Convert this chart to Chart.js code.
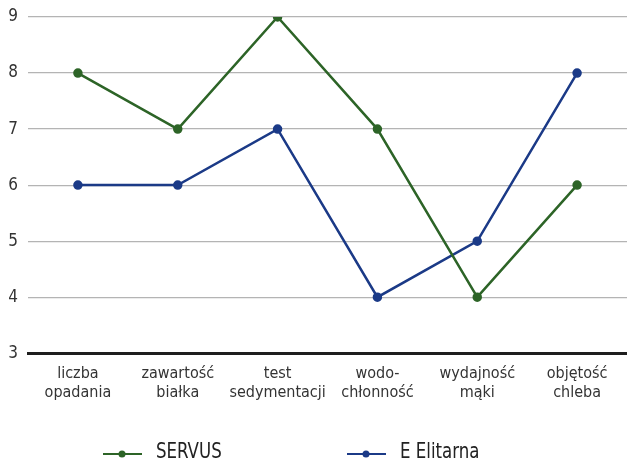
<!DOCTYPE html>
<html lang="pl">
<head>
    <meta charset="UTF-8">
    <title>SERVUS vs E Elitarna</title>
    <script src="https://cdn.jsdelivr.net/npm/chart.js"></script>
    <style>
        body {
            margin: 0;
            background: #fff;
            overflow: hidden;
        }
    </style>
</head>
<body>
    <canvas id="flour-chart" width="627" height="463"></canvas>

    <script>
        // data
        const categories = [
            ['liczba', 'opadania'],
            ['zawartość', 'białka'],
            ['test', 'sedymentacji'],
            ['wodo-', 'chłonność'],
            ['wydajność', 'mąki'],
            ['objętość', 'chleba']
        ];
        const servus = [8, 7, 9, 7, 4, 6];
        const elitarna = [6, 6, 7, 4, 5, 8];
        const yTicks = [3, 4, 5, 6, 7, 8, 9];

        const GREEN = '#2d6427';
        const BLUE = '#1b3a87';
        const FONT = "'Liberation Sans Narrow', 'DejaVu Sans Condensed', sans-serif";

        // legend drawn by hand: line + dot swatch, wide gap between the two entries
        const bottomLegend = {
            id: 'bottomLegend',
            afterDraw(chart) {
                const g = chart.ctx;
                const y = chart.height - 9;
                const slots = [103, 347];
                g.save();
                g.font = '21px ' + FONT;
                g.textBaseline = 'middle';
                chart.data.datasets.forEach((ds, i) => {
                    const x = slots[i];
                    g.strokeStyle = ds.borderColor;
                    g.lineWidth = 2;
                    g.beginPath();
                    g.moveTo(x, y);
                    g.lineTo(x + 39, y);
                    g.stroke();
                    g.fillStyle = ds.borderColor;
                    g.beginPath();
                    g.arc(x + 19, y, 3.5, 0, Math.PI * 2);
                    g.fill();
                    // the original type is narrower, squeeze it a bit
                    g.save();
                    g.translate(x + 53, y - 1);
                    g.scale(0.88, 1);
                    g.fillStyle = '#222';
                    g.fillText(ds.label, 0, 0);
                    g.restore();
                });
                g.restore();
            }
        };

        const ctx = document.getElementById('flour-chart').getContext('2d');
        new Chart(ctx, {
            type: 'line',
            data: {
                labels: categories,
                datasets: [{
                    label: 'SERVUS',
                    data: servus,
                    borderColor: GREEN,
                    backgroundColor: GREEN,
                    borderWidth: 2.5,
                    pointRadius: 3.5,
                    pointHoverRadius: 4,
                    tension: 0
                }, {
                    label: 'E Elitarna',
                    data: elitarna,
                    borderColor: BLUE,
                    backgroundColor: BLUE,
                    borderWidth: 2.5,
                    pointRadius: 3.5,
                    pointHoverRadius: 4,
                    tension: 0
                }]
            },
            options: {
                responsive: false,
                animation: false,
                layout: {
                    autoPadding: false,
                    padding: { top: 0, right: 0, bottom: 54, left: 0 }
                },
                plugins: {
                    tooltip: { enabled: false },
                    legend: { display: false }
                },
                scales: {
                    x: {
                        offset: true,
                        afterFit(scale) {
                            scale.paddingLeft = 0;
                            scale.paddingRight = 0;
                            scale.height += 4;
                        },
                        grid: { display: false },
                        border: { display: true, color: '#1e1e1e', width: 3 },
                        ticks: {
                            color: '#333',
                            padding: 3,
                            maxRotation: 0,
                            autoSkip: false,
                            font: { family: FONT, size: 16, lineHeight: 1.18 }
                        }
                    },
                    y: {
                        min: yTicks[0],
                        max: yTicks[yTicks.length - 1],
                        afterBuildTicks(scale) {
                            scale.ticks = yTicks.map(v => ({ value: v }));
                        },
                        afterFit(scale) {
                            scale.width = 28;
                            scale.paddingTop = 17;
                        },
                        border: { display: false },
                        grid: {
                            color: c => (c.tick && c.tick.value === 3 ? 'rgba(0,0,0,0)' : '#b4b4b4'),
                            lineWidth: 1.2,
                            drawTicks: false
                        },
                        ticks: {
                            color: '#333',
                            padding: 10,
                            font: { family: FONT, size: 17 }
                        }
                    }
                }
            },
            plugins: [bottomLegend]
        });
    </script>
</body>
</html>
